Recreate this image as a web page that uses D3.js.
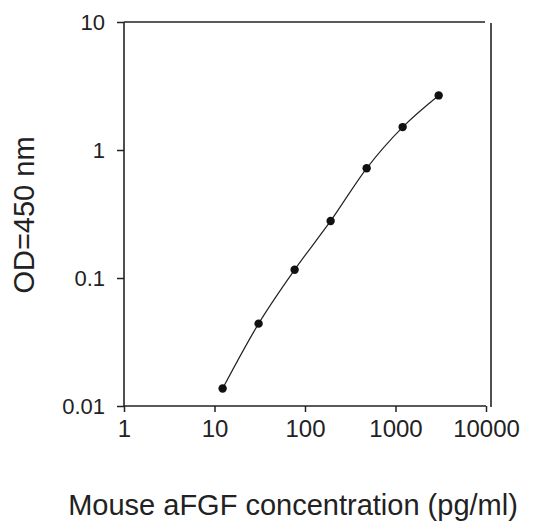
<!DOCTYPE html>
<html>
<head>
<meta charset="utf-8">
<script src="https://cdn.jsdelivr.net/npm/d3@7"></script>
<style>
  body { margin: 0; background: #fff; }
  svg { font-family: "Liberation Sans", Arial, sans-serif; }
</style>
</head>
<body>
<div id="chart"></div>
<script>
// Standard curve data
var concentration = [12.3, 30.7, 76.8, 192, 480, 1200, 3000];
var od450 = [0.0137, 0.044, 0.116, 0.279, 0.72, 1.51, 2.67];

var xTicks = [1, 10, 100, 1000, 10000];
var yTicks = [0.01, 0.1, 1, 10];
var xTickLabels = ["1", "10", "100", "1000", "10000"];
var yTickLabels = ["0.01", "0.1", "1", "10"];

var width = 550, height = 525;
var margin = {top: 22, right: 64, bottom: 119, left: 124};

var svg = d3.select("#chart").append("svg")
  .attr("width", width)
  .attr("height", height);

var x = d3.scaleLog().domain([1, 10000]).range([margin.left, width - margin.right]);
var y = d3.scaleLog().domain([0.01, 10]).range([height - margin.bottom, margin.top]);

var ink = "#222";

// x axis
var xAxis = d3.axisBottom(x)
  .tickValues(xTicks)
  .tickSize(6)
  .tickPadding(7)
  .tickFormat(function(d, i) { return xTickLabels[i]; });

var gx = svg.append("g")
  .attr("transform", "translate(0," + y(0.01) + ")")
  .call(xAxis);
gx.select(".domain").remove();
gx.append("line")
  .attr("x1", x(1)).attr("x2", x(10000))
  .attr("stroke", ink).attr("stroke-width", 1.6);
gx.selectAll(".tick line").attr("stroke", ink).attr("stroke-width", 1.5);
gx.selectAll(".tick text")
  .attr("fill", ink)
  .style("font-size", "24px")
  .attr("dy", "0.75em");

// y axis
var yAxis = d3.axisLeft(y)
  .tickValues(yTicks)
  .tickSize(7)
  .tickPadding(12)
  .tickFormat(function(d, i) { return yTickLabels[i]; });

var gy = svg.append("g")
  .attr("transform", "translate(" + x(1) + ",0)")
  .call(yAxis);
gy.select(".domain").remove();
gy.append("line")
  .attr("y1", y(0.01)).attr("y2", y(10))
  .attr("stroke", ink).attr("stroke-width", 1.6);
gy.selectAll(".tick line").attr("stroke", ink).attr("stroke-width", 1.5);
gy.selectAll(".tick text")
  .attr("fill", ink)
  .style("font-size", "22px");

// frame: top and right lines
svg.append("line")
  .attr("x1", x(1)).attr("x2", x(10000) - 1)
  .attr("y1", y(10)).attr("y2", y(10))
  .attr("stroke", ink).attr("stroke-width", 1.6);
svg.append("line")
  .attr("x1", x(10000) + 5).attr("x2", x(10000) + 5)
  .attr("y1", y(10) + 1).attr("y2", y(0.01) + 1)
  .attr("stroke", ink).attr("stroke-width", 1.6);

// curve
var points = concentration.map(function(c, i) { return {x: c, y: od450[i]}; });

var line = d3.line()
  .x(function(d) { return x(d.x); })
  .y(function(d) { return y(d.y); })
  .curve(d3.curveMonotoneX);

svg.append("path")
  .datum(points)
  .attr("d", line)
  .attr("fill", "none")
  .attr("stroke", ink)
  .attr("stroke-width", 1.2);

svg.selectAll("circle")
  .data(points)
  .enter()
  .append("circle")
  .attr("cx", function(d) { return x(d.x); })
  .attr("cy", function(d) { return y(d.y); })
  .attr("r", 4.2)
  .attr("fill", "#111");

// axis titles
svg.append("text")
  .attr("x", 293)
  .attr("y", 515)
  .attr("text-anchor", "middle")
  .attr("fill", ink)
  .style("font-size", "29px")
  .text("Mouse aFGF concentration (pg/ml)");

svg.append("text")
  .attr("transform", "translate(34," + ((y(10) + y(0.01)) / 2 + 1) + ") rotate(-90)")
  .attr("text-anchor", "middle")
  .attr("fill", ink)
  .style("font-size", "29px")
  .text("OD=450 nm");
</script>
</body>
</html>
